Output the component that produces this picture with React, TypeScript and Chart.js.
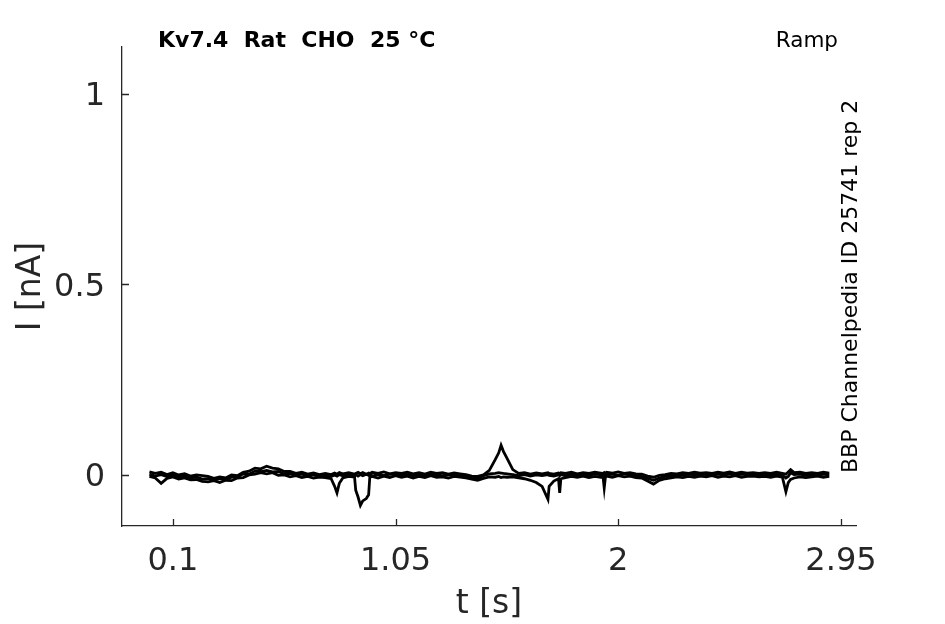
import React, { useEffect, useRef } from "react";
import { Chart, registerables } from "chart.js";

Chart.register(...registerables);

// time points [s]
const times = [
  0, 0.025, 0.05, 0.075, 0.1, 0.125, 0.15, 0.175, 0.2, 0.225,
  0.25, 0.275, 0.3, 0.325, 0.35, 0.375, 0.4, 0.425, 0.45, 0.475,
  0.5, 0.525, 0.55, 0.575, 0.6, 0.625, 0.65, 0.675, 0.7, 0.725,
  0.75, 0.775, 0.79, 0.8, 0.81, 0.825, 0.85, 0.875, 0.88, 0.89,
  0.9, 0.91, 0.925, 0.935, 0.94, 0.95, 0.975, 1.0, 1.025, 1.05,
  1.075, 1.1, 1.125, 1.15, 1.175, 1.2, 1.225, 1.25, 1.275, 1.3,
  1.325, 1.35, 1.375, 1.4, 1.425, 1.45, 1.475, 1.49, 1.5, 1.51,
  1.525, 1.55, 1.575, 1.6, 1.625, 1.65, 1.675, 1.7, 1.705, 1.725,
  1.745, 1.75, 1.755, 1.775, 1.8, 1.825, 1.85, 1.875, 1.9, 1.925,
  1.935, 1.94, 1.945, 1.95, 1.975, 2.0, 2.025, 2.05, 2.075, 2.1,
  2.125, 2.15, 2.175, 2.2, 2.225, 2.25, 2.275, 2.3, 2.325, 2.35,
  2.375, 2.4, 2.425, 2.45, 2.475, 2.5, 2.525, 2.55, 2.575, 2.6,
  2.625, 2.65, 2.675, 2.7, 2.715, 2.725, 2.735, 2.75, 2.775, 2.8,
  2.825, 2.85, 2.875, 2.9,
];

// current traces [nA]
const sweepA = [
  0.008, 0.004, 0.007, 0.001, 0.006, 0.0, 0.003, -0.003, 0.0, -0.002,
  -0.004, -0.009, -0.005, -0.008, 0.0, -0.002, 0.007, 0.01, 0.018, 0.016,
  0.023, 0.018, 0.016, 0.009, 0.009, 0.004, 0.007, 0.002, 0.005, 0.001,
  0.004, 0.001, 0.005, 0.002, 0.006, 0.003, 0.006, 0.002, 0.004, 0.007,
  0.003, 0.006, 0.002, 0.005, 0.003, 0.007, 0.004, 0.008, 0.003, 0.006,
  0.004, 0.007, 0.003, 0.006, 0.002, 0.007, 0.004, 0.006, 0.002, 0.005,
  0.003, 0.001, -0.003, -0.004, 0.0, 0.012, 0.04, 0.058, 0.078, 0.062,
  0.044, 0.014, 0.004, 0.006, 0.002, 0.005, 0.003, 0.006, 0.004, 0.002,
  0.005, 0.003, 0.006, 0.004, 0.007, 0.003, 0.006, 0.004, 0.007, 0.005,
  0.004, 0.006, 0.003, 0.007, 0.005, 0.008, 0.004, 0.006, 0.003, 0.002,
  -0.003, -0.006, -0.001, 0.001, 0.004, 0.003, 0.006, 0.004, 0.007, 0.005,
  0.006, 0.004, 0.007, 0.005, 0.008, 0.004, 0.007, 0.005, 0.006, 0.004,
  0.006, 0.004, 0.007, 0.004, 0.002, 0.008, 0.014, 0.006, 0.007, 0.004,
  0.006, 0.004, 0.007, 0.005,
];

const sweepB = [
  -0.004, -0.008, -0.022, -0.009, -0.005, -0.011, -0.008, -0.013, -0.012, -0.017,
  -0.018, -0.015, -0.02, -0.014, -0.015, -0.008, -0.007, 0.0, 0.002, 0.006,
  0.003, 0.006, -0.001, 0.0, -0.005, -0.002, -0.007, -0.004, -0.008, -0.006,
  -0.007, -0.01, -0.03, -0.047, -0.022, -0.008, -0.004, -0.006, -0.04, -0.058,
  -0.08, -0.068, -0.062, -0.052, -0.006, -0.004, -0.008, -0.003, -0.007, -0.002,
  -0.006, -0.003, -0.008, -0.004, -0.007, -0.002, -0.006, -0.005, -0.008, -0.004,
  -0.006, -0.008, -0.011, -0.014, -0.009, -0.005, -0.006, -0.004, -0.007, -0.005,
  -0.006, -0.005, -0.008, -0.01, -0.014, -0.02, -0.03, -0.064, -0.03, -0.016,
  -0.01, -0.047, -0.01, -0.007, -0.004, -0.006, -0.003, -0.007, -0.004, -0.006,
  -0.005, -0.034, -0.006, -0.003, -0.006, -0.002, -0.005, -0.003, -0.007, -0.008,
  -0.016, -0.024, -0.014, -0.01, -0.008, -0.005, -0.007, -0.004, -0.006, -0.003,
  -0.005, -0.002, -0.006, -0.003, -0.005, -0.002, -0.006, -0.004, -0.003, -0.005,
  -0.004, -0.006, -0.003, -0.006, -0.044, -0.02, -0.012, -0.008, -0.005, -0.007,
  -0.005, -0.003, -0.006, -0.004,
];

const sweepC = [
  0.002, -0.003, 0.001, -0.004, 0.001, -0.006, -0.002, -0.008, -0.005, -0.011,
  -0.01, -0.014, -0.01, -0.013, -0.006, -0.006, 0.003, 0.002, 0.01, 0.009,
  0.012, 0.008, 0.009, 0.002, 0.004, -0.001, 0.002, -0.003, 0.001, -0.004,
  -0.001, -0.004, 0.0, -0.003, 0.001, -0.002, 0.002, -0.002, 0.001, -0.003,
  0.001, -0.002, 0.002, -0.001, 0.003, -0.003, 0.001, -0.002, 0.002, 0.0,
  -0.001, 0.002, -0.002, 0.001, -0.003, 0.002, 0.0, -0.002, 0.001, -0.001,
  0.0, -0.003, -0.005, -0.009, -0.002, 0.003, 0.004, 0.006, 0.005, 0.004,
  0.003, 0.001, -0.002, 0.001, -0.003, 0.0, -0.002, 0.001, -0.001, -0.003,
  0.0, -0.002, 0.001, -0.002, 0.002, -0.001, 0.002, -0.001, 0.003, 0.0,
  0.001, -0.001, 0.002, 0.0, 0.002, -0.001, 0.003, 0.0, -0.002, -0.004,
  -0.009, -0.014, -0.008, -0.004, -0.003, 0.001, -0.001, 0.002, 0.0, 0.002,
  0.001, -0.001, 0.002, 0.0, 0.003, -0.001, 0.002, 0.0, 0.001, -0.001,
  0.001, -0.001, 0.002, -0.001, -0.008, -0.004, 0.006, 0.001, 0.002, -0.001,
  0.001, -0.001, 0.002, 0.0,
];

const xTicks = [0.1, 1.05, 2, 2.95];
const yTicks = [0, 0.5, 1];

const titleText = "Kv7.4  Rat  CHO  25 °C";
const protocolText = "Ramp";
const sideText = "BBP Channelpedia ID 25741 rep 2";
const xLabel = "t [s]";
const yLabel = "I [nA]";

const FONT = "'DejaVu Sans', sans-serif";
const AXIS = "#262626";

const decorPlugin = {
  id: "decor",
  afterDraw(chart: any) {
    const { ctx, chartArea, scales } = chart;
    const x = scales.x;
    const y = scales.y;
    ctx.save();
    // inward ticks
    ctx.strokeStyle = AXIS;
    ctx.lineWidth = 1.3;
    ctx.beginPath();
    for (const v of xTicks) {
      const px = Math.round(x.getPixelForValue(v)) + 0.5;
      ctx.moveTo(px, chartArea.bottom);
      ctx.lineTo(px, chartArea.bottom - 7);
    }
    for (const v of yTicks) {
      const py = Math.round(y.getPixelForValue(v)) + 0.5;
      ctx.moveTo(chartArea.left, py);
      ctx.lineTo(chartArea.left + 7, py);
    }
    ctx.stroke();

    // axis titles
    ctx.fillStyle = AXIS;
    ctx.font = `33px ${FONT}`;
    ctx.textAlign = "center";
    ctx.textBaseline = "alphabetic";
    ctx.fillText(xLabel, (chartArea.left + chartArea.right) / 2, 613);
    ctx.save();
    ctx.translate(40, (chartArea.top + chartArea.bottom) / 2);
    ctx.rotate(-Math.PI / 2);
    ctx.fillText(yLabel, 0, 0);
    ctx.restore();

    // title texts
    ctx.fillStyle = "#000";
    ctx.font = `bold 22px ${FONT}`;
    ctx.textAlign = "left";
    ctx.fillText(titleText, 158, 47);
    ctx.font = `21.5px ${FONT}`;
    ctx.textAlign = "right";
    ctx.fillText(protocolText, 838, 47);

    // side text
    ctx.save();
    ctx.translate(857, 473);
    ctx.rotate(-Math.PI / 2);
    ctx.font = `22px ${FONT}`;
    ctx.textAlign = "left";
    ctx.fillText(sideText, 0, 0);
    ctx.restore();
    ctx.restore();
  },
};

export default function App() {
  const ref = useRef<HTMLCanvasElement | null>(null);

  useEffect(() => {
    document.body.style.margin = "0";
    const canvas = ref.current;
    if (!canvas) return;
    const mk = (vals: number[]) => times.map((t, i) => ({ x: t, y: vals[i] }));
    const ds = (label: string, vals: number[]) => ({
      label,
      data: mk(vals),
      borderColor: "#000",
      borderWidth: 2.8,
      pointRadius: 0,
      tension: 0,
      fill: false,
    });
    const chart = new Chart(canvas, {
      type: "line",
      data: {
        datasets: [ds("sweep 1", sweepA), ds("sweep 2", sweepB), ds("sweep 3", sweepC)],
      },
      options: {
        animation: false,
        responsive: false,
        devicePixelRatio: 1,
        layout: { padding: { top: 47, right: 89, left: 0, bottom: 0 } },
        plugins: {
          legend: { display: false },
          tooltip: { enabled: false },
          title: { display: false },
        },
        scales: {
          x: {
            type: "linear",
            min: -0.117,
            max: 3.014,
            afterBuildTicks: (s: any) => {
              s.ticks = xTicks.map((v) => ({ value: v }));
            },
            afterFit: (s: any) => {
              s.height = 98;
            },
            ticks: {
              font: { family: FONT, size: 32 },
              color: AXIS,
              padding: 16,
              maxRotation: 0,
              autoSkip: false,
              callback: (v: any) => String(v),
            },
            grid: { display: false, drawTicks: false },
            border: { display: true, color: AXIS, width: 1.3 },
          },
          y: {
            type: "linear",
            min: -0.134,
            max: 1.123,
            afterBuildTicks: (s: any) => {
              s.ticks = yTicks.map((v) => ({ value: v }));
            },
            afterFit: (s: any) => {
              s.width = 122;
            },
            ticks: {
              font: { family: FONT, size: 32 },
              color: AXIS,
              padding: 17,
              labelOffset: 3,
              autoSkip: false,
              callback: (v: any) => String(v),
            },
            grid: { display: false, drawTicks: false },
            border: { display: true, color: AXIS, width: 1.3 },
          },
        },
      },
      plugins: [decorPlugin],
    });
    return () => chart.destroy();
  }, []);

  return (
    <div style={{ width: 945, height: 624, background: "#fff" }}>
      <canvas ref={ref} width={945} height={624} style={{ display: "block", width: 945, height: 624 }} />
    </div>
  );
}
